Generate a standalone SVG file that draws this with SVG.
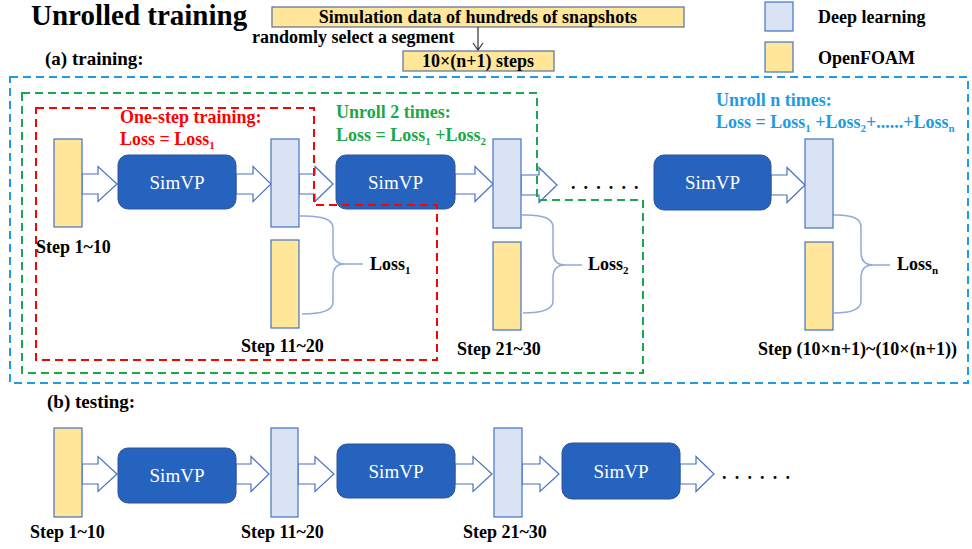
<svg xmlns="http://www.w3.org/2000/svg" width="972" height="549" viewBox="0 0 972 549">
<style>
text{font-family:"Liberation Serif","Times New Roman",serif;font-weight:bold;fill:#000}
.lbl{font-size:18px}
.sim{fill:#2563BE;stroke:#2F5597;stroke-width:1}
.simt{font-weight:normal;fill:#fff;font-size:19px;text-anchor:middle}
.dl{fill:#DAE3F3;stroke:#4472C4;stroke-width:1.2}
.of{fill:#FFE699;stroke:#4472C4;stroke-width:1.2}
.ofb{fill:#FFE699;stroke:#5A6E9A;stroke-width:1.2}
.arr{fill:#fff;stroke:#4472C4;stroke-width:1.2}
.brace{fill:none;stroke:#8FAADC;stroke-width:1.5}
.dash{fill:none;stroke-width:2;stroke-dasharray:8 5}
.sub{font-size:11px}
</style>
<text x="31" y="25" style="font-size:29px">Unrolled training</text>
<g id="sim-data"><rect class="ofb" x="272" y="7" width="412" height="20"/><text x="478" y="23" style="font-size:18px" text-anchor="middle">Simulation data of hundreds of snapshots</text></g>
<text x="252" y="43" style="font-size:18px">randomly select a segment</text>
<g id="steps-box"><rect class="ofb" x="403" y="51" width="151" height="20"/><text x="478" y="67" style="font-size:18px" text-anchor="middle">10×(n+1) steps</text></g>
<g id="legend">
<rect class="dl" x="765" y="2" width="28" height="29"/><text x="818" y="23" class="lbl">Deep learning</text>
<rect class="of" x="765" y="42" width="28" height="30"/><text x="818" y="64" class="lbl">OpenFOAM</text>
</g>
<text x="45" y="65" style="font-size:19px">(a) training:</text>
<text x="47" y="408" style="font-size:19px">(b) testing:</text>

<g id="connectors">
<path d="M478 27 V50 M473 43 L478 50 L483 43" fill="none" stroke="#333" stroke-width="1.2"/>
<path class="arr" d="M82 174 H98 V166.5 L117 184 L98 201.5 V194 H82 Z"/>
<path class="arr" d="M236 174 H253 V166.5 L271 184 L253 201.5 V194 H236 Z"/>
<path class="arr" d="M299 174 H315 V166.5 L333 184 L315 201.5 V194 H299 Z"/>
<path class="arr" d="M455 174 H475 V166.5 L493 184 L475 201.5 V194 H455 Z"/>
<path class="arr" d="M521 175 H539 V167.5 L557 185 L539 202.5 V195 H521 Z"/>
<path class="arr" d="M771 175 H787 V167.5 L805 185 L787 202.5 V195 H771 Z"/>
<path class="arr" d="M82 464 H98 V456.5 L117 474 L98 491.5 V484 H82 Z"/>
<path class="arr" d="M236 464 H251 V456.5 L269 474 L251 491.5 V484 H236 Z"/>
<path class="arr" d="M298 464 H315 V456.5 L334 474 L315 491.5 V484 H298 Z"/>
<path class="arr" d="M455 464 H473 V456.5 L492 474 L473 491.5 V484 H455 Z"/>
<path class="arr" d="M522 464 H540 V456.5 L559 474 L540 491.5 V484 H522 Z"/>
<path class="arr" d="M680 464 H696 V456.5 L714 474 L696 491.5 V484 H680 Z"/>
<path class="brace" d="M300 216 Q333 215 333 228 V252 Q333 264 345 264 H363 M345 264 Q333 264 333 276 V302 Q333 314 302 314"/>
<path class="brace" d="M522 215 Q553 214 553 227 V252 Q553 265 565 265 H582 M565 265 Q553 265 553 278 V301 Q553 313 523 313"/>
<path class="brace" d="M833 215 Q861 214 861 227 V252 Q861 265 873 265 H890 M873 265 Q861 265 861 278 V301 Q861 313 834 313"/>
</g>

<g id="t-in1"><rect class="of" x="54" y="139" width="28" height="88"/><text x="36" y="253" class="lbl">Step 1~10</text></g>
<g id="t-sim1"><rect class="sim" x="118" y="155" width="118" height="54" rx="10"/><text x="177" y="189" class="simt">SimVP</text></g>
<g id="t-out1"><rect class="dl" x="271" y="139" width="28" height="88"/></g>
<g id="t-gt1"><rect class="of" x="271" y="240" width="28" height="88"/><text x="241" y="352" class="lbl">Step 11~20</text></g>
<g id="t-loss1"><text x="370" y="270" class="lbl">Loss<tspan class="sub" dy="4">1</tspan></text></g>
<g id="t-sim2"><rect class="sim" x="336" y="155" width="119" height="54" rx="10"/><text x="395.5" y="189" class="simt">SimVP</text></g>
<g id="t-out2"><rect class="dl" x="493" y="139" width="28" height="89"/></g>
<g id="t-gt2"><rect class="of" x="493" y="242" width="28" height="88"/><text x="457" y="355" class="lbl">Step 21~30</text></g>
<g id="t-loss2"><text x="588" y="270" class="lbl">Loss<tspan class="sub" dy="4">2</tspan></text></g>
<text x="571" y="189" class="lbl" letter-spacing="8.1">......</text>
<g id="t-sim3"><rect class="sim" x="654" y="155" width="117" height="55" rx="10"/><text x="712.5" y="189" class="simt">SimVP</text></g>
<g id="t-outn"><rect class="dl" x="805" y="139" width="28" height="89"/></g>
<g id="t-gtn"><rect class="of" x="805" y="242" width="28" height="88"/><text x="758" y="355" class="lbl">Step (10×n+1)~(10×(n+1))</text></g>
<g id="t-lossn"><text x="897" y="270" class="lbl">Loss<tspan class="sub" dy="4">n</tspan></text></g>

<g id="e-in1"><rect class="of" x="54" y="428" width="28" height="89"/><text x="30" y="538" class="lbl">Step 1~10</text></g>
<g id="e-sim1"><rect class="sim" x="118" y="448" width="118" height="55" rx="10"/><text x="177" y="482" class="simt">SimVP</text></g>
<g id="e-out1"><rect class="dl" x="271" y="428" width="27" height="89"/><text x="241" y="538" class="lbl">Step 11~20</text></g>
<g id="e-sim2"><rect class="sim" x="337" y="444" width="118" height="54" rx="10"/><text x="396" y="478" class="simt">SimVP</text></g>
<g id="e-out2"><rect class="dl" x="494" y="428" width="28" height="89"/><text x="463" y="538" class="lbl">Step 21~30</text></g>
<g id="e-sim3"><rect class="sim" x="562" y="443" width="118" height="56" rx="10"/><text x="621" y="478" class="simt">SimVP</text></g>
<text x="722" y="479" class="lbl" letter-spacing="8.2">......</text>

<g id="frames">
<rect class="dash" x="10" y="77" width="958" height="306" stroke="#1E9BE3"/>
<path class="dash" stroke="#1BA84A" d="M22 93 H537 V200 H643 V373 H22 Z"/>
<path class="dash" stroke="#FF0000" d="M36 108 H314 V205 H437 V360 H36 Z"/>
</g>
<g id="labels">
<text x="120" y="123" class="lbl" style="fill:#FF0000">One-step training:</text>
<text x="120" y="145" class="lbl" style="fill:#FF0000">Loss = Loss<tspan class="sub" dy="4">1</tspan></text>
<text x="336" y="118" class="lbl" style="fill:#1BA84A">Unroll 2 times:</text>
<text x="336" y="141" class="lbl" style="fill:#1BA84A">Loss = Loss<tspan class="sub" dy="4">1</tspan><tspan dy="-4"> +Loss</tspan><tspan class="sub" dy="4">2</tspan></text>
<text x="716" y="106" class="lbl" style="fill:#1E9BE3">Unroll n times:</text>
<text x="716" y="128" class="lbl" style="fill:#1E9BE3">Loss = Loss<tspan class="sub" dy="4">1</tspan><tspan dy="-4"> +Loss</tspan><tspan class="sub" dy="4">2</tspan><tspan dy="-4">+......+Loss</tspan><tspan class="sub" dy="4">n</tspan></text>
</g>
</svg>
